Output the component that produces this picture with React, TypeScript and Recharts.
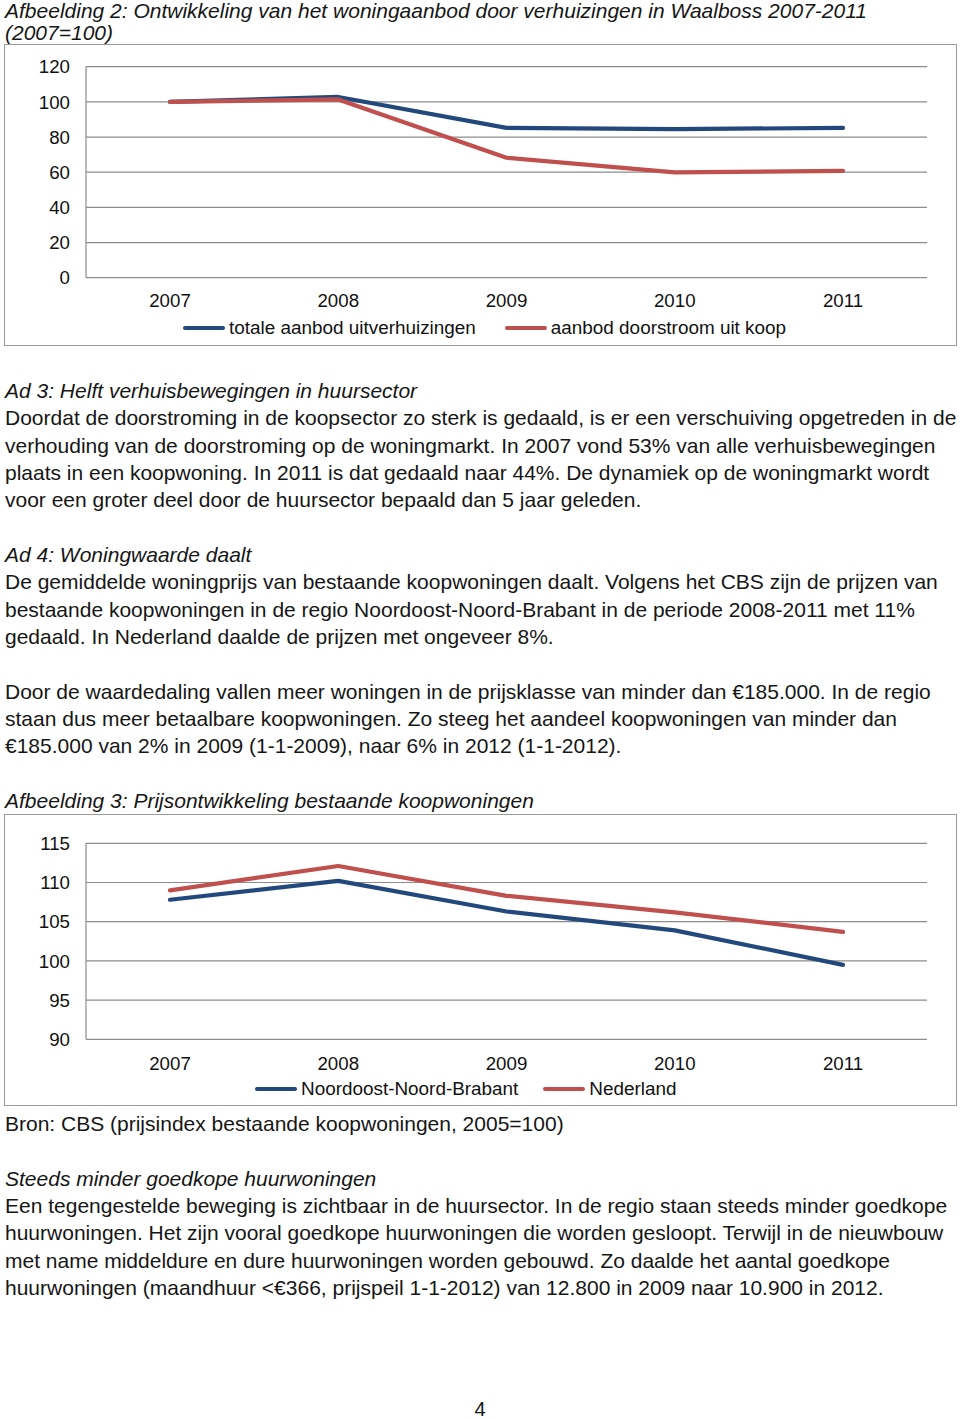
import { CartesianGrid, Line, LineChart, XAxis, YAxis } from 'recharts'

// Afbeelding 2: woningaanbod door verhuizingen (2007=100)
const years = ['2007', '2008', '2009', '2010', '2011']
const aanbodTotaal = [100, 102.8, 85.2, 84.5, 85.2]
const aanbodDoorstroom = [100, 101.4, 68.2, 59.9, 60.8]
const aanbodTicks = [0, 20, 40, 60, 80, 100, 120]
const aanbodNames = ['totale aanbod uitverhuizingen', 'aanbod doorstroom uit koop']

// Afbeelding 3: prijsindex bestaande koopwoningen
const prijsRegio = [107.8, 110.2, 106.3, 103.9, 99.5]
const prijsNederland = [109.0, 112.1, 108.3, 106.2, 103.7]
const prijsTicks = [90, 95, 100, 105, 110, 115]
const prijsNames = ['Noordoost-Noord-Brabant', 'Nederland']

const BLUE = '#23497c'
const RED = '#c0504d'
const GRID = '#8c8c8c'
const FONT = '"Liberation Sans", Arial, Helvetica, sans-serif'

const aanbodData = years.map((year, i) => ({ year, a: aanbodTotaal[i], b: aanbodDoorstroom[i] }))
const prijsData = years.map((year, i) => ({ year, a: prijsRegio[i], b: prijsNederland[i] }))

interface TrendChartProps {
  data: { year: string; a: number; b: number }[]
  ticks: number[]
  names: string[]
  top: number
  height: number
  marginTop: number
  axisHeight: number
  tickGap: number
  legendTop: number
  legendLeft: number
  legendGap: number
}

function TrendChart(p: TrendChartProps) {
  const tickStyle = { fontSize: 18.7, fill: '#111', fontFamily: FONT }
  return (
    <div style={{ position: 'absolute', left: 4, top: p.top, width: 953, height: p.height }}>
      <LineChart
        width={953}
        height={p.height}
        data={p.data}
        margin={{ top: p.marginTop, right: 30, left: 0, bottom: 0 }}
      >
        <CartesianGrid vertical={false} stroke={GRID} strokeWidth={1.2} />
        <XAxis
          dataKey="year"
          height={p.axisHeight}
          axisLine={false}
          tickLine={false}
          tickSize={0}
          tickMargin={p.tickGap}
          padding={{ left: 84, right: 84 }}
          tick={tickStyle}
        />
        <YAxis
          width={82}
          domain={[p.ticks[0], p.ticks[p.ticks.length - 1]]}
          ticks={p.ticks}
          axisLine={{ stroke: GRID, strokeWidth: 1.2 }}
          tickLine={false}
          tickSize={0}
          tickMargin={16}
          tick={tickStyle}
        />
        <Line type="linear" dataKey="a" stroke={BLUE} strokeWidth={4.2} strokeLinecap="round" strokeLinejoin="round" dot={false} isAnimationActive={false} />
        <Line type="linear" dataKey="b" stroke={RED} strokeWidth={4.2} strokeLinecap="round" strokeLinejoin="round" dot={false} isAnimationActive={false} />
      </LineChart>
      <div
        style={{
          position: 'absolute',
          left: p.legendLeft - 4,
          top: p.legendTop,
          display: 'flex',
          gap: p.legendGap,
          fontSize: 18.9,
          color: '#111',
          lineHeight: '22px',
          whiteSpace: 'nowrap',
        }}
      >
        {p.names.map((name, i) => (
          <div key={name} style={{ display: 'flex', alignItems: 'center', gap: 4 }}>
            <span style={{ width: 42, height: 4.5, borderRadius: 3, background: i === 0 ? BLUE : RED }} />
            <span>{name}</span>
          </div>
        ))}
      </div>
      <div style={{ position: 'absolute', inset: 0, border: '1.5px solid #9a9a9a', boxSizing: 'border-box', pointerEvents: 'none' }} />
    </div>
  )
}

const block = { position: 'absolute' as const, left: 5, fontSize: 21, lineHeight: '27.33px', color: '#161616', whiteSpace: 'nowrap' as const }
const italic = { fontStyle: 'italic' as const }

export default function App() {
  return (
    <div style={{ position: 'absolute', left: 0, top: 0, width: 960, height: 1419, background: '#fff', fontFamily: FONT, overflow: 'hidden' }}>
      <div style={{ ...block, top: 0, lineHeight: '22px', ...italic }}>
        <div>Afbeelding 2: Ontwikkeling van het woningaanbod door verhuizingen in Waalboss 2007-2011</div>
        <div>(2007=100)</div>
      </div>

      <TrendChart
        data={aanbodData}
        ticks={aanbodTicks}
        names={aanbodNames}
        top={44}
        height={302}
        marginTop={22.7}
        axisHeight={68.3}
        tickGap={16}
        legendTop={273}
        legendLeft={183}
        legendGap={29}
      />

      <div style={{ ...block, top: 377 }}>
        <div style={italic}>Ad 3: Helft verhuisbewegingen in huursector</div>
        <div>Doordat de doorstroming in de koopsector zo sterk is gedaald, is er een verschuiving opgetreden in de</div>
        <div>verhouding van de doorstroming op de woningmarkt. In 2007 vond 53% van alle verhuisbewegingen</div>
        <div>plaats in een koopwoning. In 2011 is dat gedaald naar 44%. De dynamiek op de woningmarkt wordt</div>
        <div>voor een groter deel door de huursector bepaald dan 5 jaar geleden.</div>
        <div>&nbsp;</div>
        <div style={italic}>Ad 4: Woningwaarde daalt</div>
        <div>De gemiddelde woningprijs van bestaande koopwoningen daalt. Volgens het CBS zijn de prijzen van</div>
        <div>bestaande koopwoningen in de regio Noordoost-Noord-Brabant in de periode 2008-2011 met 11%</div>
        <div>gedaald. In Nederland daalde de prijzen met ongeveer 8%.</div>
        <div>&nbsp;</div>
        <div>Door de waardedaling vallen meer woningen in de prijsklasse van minder dan €185.000. In de regio</div>
        <div>staan dus meer betaalbare koopwoningen. Zo steeg het aandeel koopwoningen van minder dan</div>
        <div>€185.000 van 2% in 2009 (1-1-2009), naar 6% in 2012 (1-1-2012).</div>
        <div>&nbsp;</div>
        <div style={italic}>Afbeelding 3: Prijsontwikkeling bestaande koopwoningen</div>
      </div>

      <TrendChart
        data={prijsData}
        ticks={prijsTicks}
        names={prijsNames}
        top={814}
        height={292}
        marginTop={29.3}
        axisHeight={66.7}
        tickGap={17}
        legendTop={264}
        legendLeft={255}
        legendGap={25}
      />

      <div style={{ ...block, top: 1110 }}>
        <div>Bron: CBS (prijsindex bestaande koopwoningen, 2005=100)</div>
        <div>&nbsp;</div>
        <div style={italic}>Steeds minder goedkope huurwoningen</div>
        <div>Een tegengestelde beweging is zichtbaar in de huursector. In de regio staan steeds minder goedkope</div>
        <div>huurwoningen. Het zijn vooral goedkope huurwoningen die worden gesloopt. Terwijl in de nieuwbouw</div>
        <div>met name middeldure en dure huurwoningen worden gebouwd. Zo daalde het aantal goedkope</div>
        <div>huurwoningen (maandhuur &lt;€366, prijspeil 1-1-2012) van 12.800 in 2009 naar 10.900 in 2012.</div>
      </div>

      <div style={{ position: 'absolute', left: 0, width: 960, top: 1400, height: 19, lineHeight: '19px', textAlign: 'center', fontSize: 20, color: '#161616' }}>4</div>
    </div>
  )
}
